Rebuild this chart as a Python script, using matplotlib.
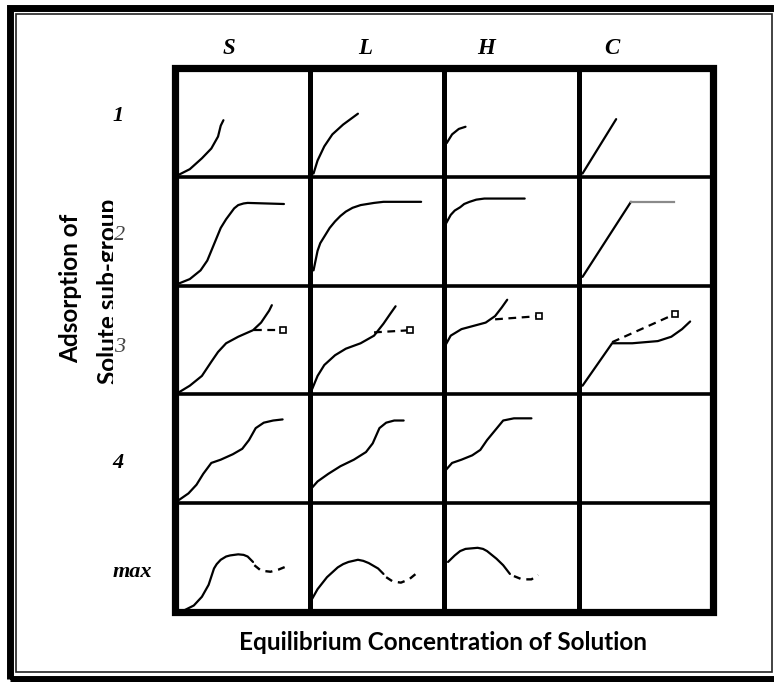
import matplotlib
matplotlib.use("Agg")
import matplotlib.pyplot as plt
from matplotlib.patches import Rectangle
from matplotlib.transforms import Bbox, TransformedBbox

# ---------------- data (cell-local coordinates, 0..1) ----------------
columns = ["S", "L", "H", "C"]
rows = ["1", "2", "3", "4", "max"]
x_label = "Equilibrium Concentration of Solution"
y_label_1 = "Adsorption of"
y_label_2 = "Solute sub-group"

# row 1
S1 = [(0.03, 0.02), (0.11, 0.07), (0.20, 0.17), (0.27, 0.26), (0.32, 0.37), (0.34, 0.47), (0.36, 0.52)]
L1 = [(0.03, 0.03), (0.06, 0.15), (0.11, 0.28), (0.17, 0.39), (0.25, 0.48), (0.36, 0.58)]
H1 = [(0.02, 0.31), (0.06, 0.39), (0.11, 0.44), (0.16, 0.46)]
C1 = [(0.03, 0.03), (0.28, 0.53)]
# row 2
S2 = [(0.03, 0.02), (0.11, 0.06), (0.19, 0.14), (0.24, 0.23), (0.29, 0.38), (0.34, 0.53),
      (0.38, 0.61), (0.41, 0.66), (0.44, 0.71), (0.47, 0.74), (0.51, 0.755), (0.54, 0.76), (0.81, 0.75)]
L2 = [(0.03, 0.14), (0.06, 0.32), (0.08, 0.39), (0.11, 0.45), (0.15, 0.53), (0.19, 0.59),
      (0.23, 0.64), (0.27, 0.68), (0.32, 0.715), (0.38, 0.74), (0.48, 0.76), (0.55, 0.77), (0.83, 0.77)]
H2 = [(0.01, 0.56), (0.05, 0.65), (0.08, 0.69), (0.12, 0.72), (0.15, 0.75), (0.19, 0.77),
      (0.24, 0.79), (0.30, 0.80), (0.60, 0.80)]
C2 = [(0.03, 0.08), (0.39, 0.77)]
C2_plateau = [(0.39, 0.77), (0.71, 0.77)]
# row 3
S3 = [(0.03, 0.02), (0.11, 0.08), (0.20, 0.17), (0.27, 0.30), (0.32, 0.39), (0.38, 0.47),
      (0.47, 0.53), (0.58, 0.59), (0.64, 0.66), (0.70, 0.77), (0.72, 0.82)]
S3_dash = [(0.59, 0.59), (0.80, 0.59)]
L3 = [(0.02, 0.05), (0.06, 0.17), (0.11, 0.27), (0.19, 0.36), (0.27, 0.42), (0.38, 0.47),
      (0.48, 0.54), (0.55, 0.65), (0.60, 0.74), (0.64, 0.81)]
L3_dash = [(0.48, 0.57), (0.75, 0.59)]
H3 = [(0.01, 0.45), (0.05, 0.54), (0.13, 0.60), (0.22, 0.63), (0.31, 0.66), (0.38, 0.72),
      (0.43, 0.80), (0.47, 0.87)]
H3_dash = [(0.38, 0.69), (0.71, 0.72)]
C3 = [(0.03, 0.08), (0.25, 0.47), (0.40, 0.47), (0.59, 0.49), (0.69, 0.53), (0.77, 0.60), (0.83, 0.67)]
C3_dash = [(0.25, 0.48), (0.72, 0.74)]
# row 4
S4 = [(0.03, 0.03), (0.10, 0.09), (0.16, 0.17), (0.21, 0.27), (0.27, 0.37), (0.34, 0.40),
      (0.43, 0.45), (0.50, 0.50), (0.55, 0.58), (0.60, 0.69), (0.66, 0.74), (0.73, 0.76), (0.80, 0.77)]
L4 = [(0.01, 0.13), (0.06, 0.20), (0.14, 0.27), (0.23, 0.34), (0.33, 0.40), (0.42, 0.47),
      (0.47, 0.55), (0.52, 0.69), (0.57, 0.74), (0.63, 0.76), (0.70, 0.76)]
H4 = [(0.01, 0.30), (0.06, 0.37), (0.13, 0.40), (0.21, 0.44), (0.27, 0.49), (0.32, 0.58),
      (0.38, 0.67), (0.44, 0.76), (0.52, 0.78), (0.65, 0.78)]
# row max
Smax = [(0.06, 0.01), (0.14, 0.06), (0.20, 0.14), (0.25, 0.25), (0.29, 0.40), (0.31, 0.44),
        (0.34, 0.48), (0.38, 0.51), (0.41, 0.52), (0.47, 0.53), (0.51, 0.525), (0.54, 0.51), (0.58, 0.46)]
Smax_dash = [(0.59, 0.43), (0.64, 0.38), (0.71, 0.37), (0.77, 0.39), (0.83, 0.42)]
Lmax = [(0.01, 0.10), (0.06, 0.21), (0.13, 0.32), (0.21, 0.41), (0.25, 0.44), (0.29, 0.46),
        (0.36, 0.48), (0.40, 0.47), (0.44, 0.45), (0.51, 0.40), (0.55, 0.35)]
Lmax_dash = [(0.57, 0.32), (0.62, 0.28), (0.68, 0.27), (0.74, 0.30), (0.79, 0.35)]
Hmax = [(0.03, 0.46), (0.08, 0.52), (0.12, 0.56), (0.16, 0.58), (0.25, 0.59), (0.29, 0.58),
        (0.32, 0.56), (0.39, 0.49), (0.44, 0.43), (0.49, 0.35)]
Hmax_dash = [(0.52, 0.33), (0.58, 0.30), (0.65, 0.30), (0.70, 0.34)]

# (column index, row index from top, points)
solid_curves = [
    (0, 0, S1), (1, 0, L1), (2, 0, H1), (3, 0, C1),
    (0, 1, S2), (1, 1, L2), (2, 1, H2), (3, 1, C2),
    (0, 2, S3), (1, 2, L3), (2, 2, H3), (3, 2, C3),
    (0, 3, S4), (1, 3, L4), (2, 3, H4),
    (0, 4, Smax), (1, 4, Lmax), (2, 4, Hmax),
]
gray_curves = [(3, 1, C2_plateau)]
dashed_curves = [(0, 2, S3_dash), (1, 2, L3_dash), (2, 2, H3_dash), (3, 2, C3_dash)]
dashed_tails = [(0, 4, Smax_dash), (1, 4, Lmax_dash), (2, 4, Hmax_dash)]

# ---------------- figure ----------------
W, H = 774, 682
fig = plt.figure(figsize=(W / 100, H / 100), dpi=100)
fig.patch.set_facecolor("white")

def fx(px):
    return px / W

def fy(py):
    return 1 - py / H

# outer frame: thick black + thin inner line
fig.patches.append(Rectangle((fx(9.5), fy(678.5)), fx(800) - fx(9.5), fy(7.5) - fy(678.5),
                             transform=fig.transFigure, fill=False, lw=5.0, ec="black"))
fig.patches.append(Rectangle((fx(16), fy(672)), fx(771.5) - fx(16), fy(14) - fy(672),
                             transform=fig.transFigure, fill=False, lw=1.2, ec="#222222"))

gl, gr, gt, gb = 175, 713, 68, 612
ax = fig.add_axes([fx(gl), fy(gb), fx(gr) - fx(gl), fy(gt) - fy(gb)])
ax.set_xlim(0, len(columns))
ax.set_ylim(0, len(rows))
ax.axis("off")

nrow = len(rows)

def to_xy(c, r, pts):
    xs = [c + p[0] for p in pts]
    ys = [(nrow - 1 - r) + p[1] for p in pts]
    return xs, ys

# grid lines
for i in range(1, len(columns)):
    ax.axvline(i, color="black", lw=3.6, clip_on=False)
for j in range(1, nrow):
    ax.axhline(j, color="black", lw=2.6, clip_on=False)
ax.add_patch(Rectangle((0, 0), len(columns), nrow, fill=False, ec="black", lw=5.2, clip_on=False))

for c, r, pts in solid_curves:
    xs, ys = to_xy(c, r, pts)
    ax.plot(xs, ys, color="black", lw=1.6, solid_capstyle="round", solid_joinstyle="round")
for c, r, pts in gray_curves:
    xs, ys = to_xy(c, r, pts)
    ax.plot(xs, ys, color="#8a8a8a", lw=1.6)
for c, r, pts in dashed_curves:
    xs, ys = to_xy(c, r, pts)
    ax.plot(xs, ys, color="black", lw=1.6, dashes=(3.5, 2.5))
    ax.plot(xs[-1], ys[-1], marker="s", ms=4.5, mfc="white", mec="black", mew=1.2)
for c, r, pts in dashed_tails:
    xs, ys = to_xy(c, r, pts)
    ax.plot(xs, ys, color="black", lw=1.7, dashes=(3.0, 2.5))

# column headers
serif = "Liberation Serif"
col_x = [229, 365, 486, 612]
for name, x in zip(columns, col_x):
    fig.text(fx(x), fy(48), name, ha="center", va="center", family=serif,
             style="italic", weight="bold", fontsize=16.5)

# row labels
row_pos = [(118, 116, "bold", "black"), (120, 235, "normal", "#444444"),
           (120, 348, "normal", "#444444"), (118, 463, "bold", "black"),
           (132, 572, "bold", "black")]
for name, (x, y, wt, col) in zip(rows, row_pos):
    fig.text(fx(x), fy(y), name, ha="center", va="center", family=serif,
             style="italic", weight=wt, fontsize=16, color=col)

# axis titles
sans = ["Lato", "DejaVu Sans"]
fig.text(fx(443), fy(642), x_label, ha="center", va="center", family=sans,
         weight="bold", fontsize=17.5)
fig.text(fx(71), fy(288), y_label_1, ha="center", va="center", rotation=90,
         family=sans, weight="bold", fontsize=17.5)
t2 = fig.text(fx(97), fy(291), y_label_2, ha="left", va="center", rotation=90,
              family=sans, weight="bold", fontsize=17.5)
clip = TransformedBbox(Bbox.from_extents(0, 0, fx(113), 1), fig.transFigure)
t2.set_clip_box(clip)
t2.set_clip_on(True)

fig.savefig("out.png", dpi=100, facecolor="white")
